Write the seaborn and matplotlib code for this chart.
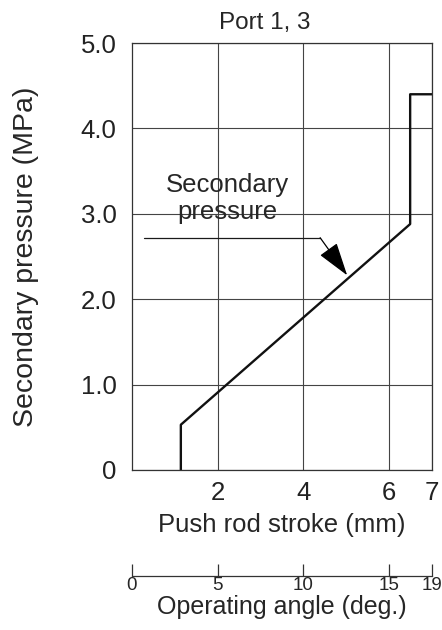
import matplotlib
matplotlib.use("Agg")
import matplotlib.pyplot as plt
import seaborn as sns
import pandas as pd

# Kennlinie: Hub (mm) gegen Sekundärdruck (MPa)
stroke = [1.14, 1.14, 6.49, 6.49, 7.0]
pressure = [0.0, 0.53, 2.88, 4.4, 4.4]

x_ticks = [2, 4, 6, 7]
y_ticks = [0, 1, 2, 3, 4, 5]
y_labels = ["0", "1.0", "2.0", "3.0", "4.0", "5.0"]

# Betätigungswinkel an Hubpositionen
angle_pos = [0, 2, 4, 6, 7]
angle_labels = ["0", "5", "10", "15", "19"]

sns.set_style("white")
plt.rcParams['font.family'] = ['Liberation Sans', 'DejaVu Sans']

df = pd.DataFrame({"stroke": stroke, "pressure": pressure})

fig = plt.figure(figsize=(4.42, 6.30), dpi=100)
ax = fig.add_axes([0.2986, 0.254, 0.6788, 0.6777])

sns.lineplot(data=df, x="stroke", y="pressure", sort=False, estimator=None,
             color="#111111", linewidth=1.7, ax=ax)

ax.set_xlim(0, 7)
ax.set_ylim(0, 5)
ax.set_xticks(x_ticks)
ax.set_yticks(y_ticks)
ax.set_yticklabels(y_labels)
ax.tick_params(length=0, labelsize=18.5, colors="#222222")
ax.tick_params(axis="x", pad=8)
ax.tick_params(axis="y", pad=11)
ax.grid(True, color="#444444", linewidth=0.8)
ax.set_axisbelow(True)
for s in ax.spines.values():
    s.set_color("#333333")
    s.set_linewidth(0.9)
ax.set_xlabel("Push rod stroke (mm)", fontsize=18.5, labelpad=6)
ax.set_ylabel("Secondary pressure (MPa)", fontsize=20.5, labelpad=30)
ax.text(3.1, 5.1, "Port 1, 3", fontsize=17.5, ha="center", va="bottom")

# Beschriftung mit Hinweislinie
ax.text(2.22, 3.18, "Secondary\npressure", fontsize=18.5, ha="center", va="center",
        linespacing=1.2)
ax.plot([0.28, 4.39], [2.72, 2.72], color="#1a1a1a", linewidth=0.9)
ax.annotate("", xy=(5.02, 2.28), xytext=(4.39, 2.72),
            arrowprops=dict(arrowstyle="-|>,head_length=1.05,head_width=0.33",
                            color="black", lw=0.9,
                            mutation_scale=20, shrinkA=0, shrinkB=0))

# Zweite Skala: Betätigungswinkel
ax2 = fig.add_axes([0.2986, 0.0857, 0.6788, 0.001])
ax2.set_xlim(0, 7)
ax2.set_yticks([])
for k in ["top", "left", "right"]:
    ax2.spines[k].set_visible(False)
ax2.spines["bottom"].set_color("#333333")
ax2.spines["bottom"].set_linewidth(0.9)
ax2.set_xticks(angle_pos)
ax2.set_xticklabels(angle_labels)
ax2.tick_params(axis="x", bottom=True, direction="in", length=9, width=0.9,
                color="#333333", labelsize=13.5, pad=1)
ax2.set_xlabel("Operating angle (deg.)", fontsize=18, labelpad=0.5)

fig.savefig("out.png", dpi=100)
